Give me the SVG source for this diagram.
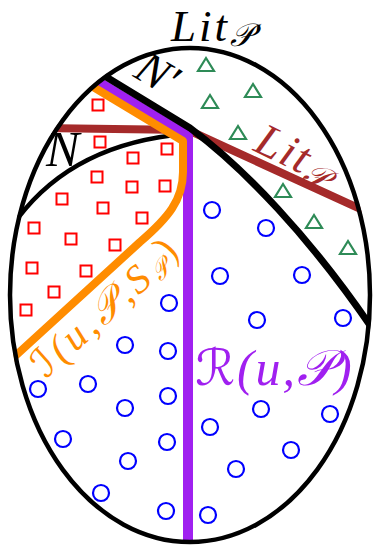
<svg xmlns="http://www.w3.org/2000/svg" width="375" height="547" viewBox="0 0 375 547">
<style>
.t{font-family:"Liberation Serif","DejaVu Serif","DejaVu Sans",serif;font-style:italic}
.sq{fill:none;stroke:#ff0000;stroke-width:2}
.tri{fill:none;stroke:#2e8b57;stroke-width:2.2;stroke-linejoin:miter}
.ci{fill:none;stroke:#0000ff;stroke-width:2.2}
.ln{fill:none;stroke-linejoin:round}
</style>
<defs>
<clipPath id="egg"><ellipse cx="190" cy="295" rx="182" ry="249"/></clipPath>
<rect id="s" x="-5.5" y="-5.5" width="11" height="11" class="sq"/>
<path id="g" d="M-8 6 L8 6 L0 -7 Z" class="tri"/>
<circle id="c" r="8" class="ci"/>
<path id="ob" d="M 16 406 L 154 282 Q 180 258 188 228"/>
</defs>
<g id="connectors" clip-path="url(#egg)">
<path d="M 18 218 Q 75 143 186 134" class="ln" stroke="#000" stroke-width="4.5"/>
<path d="M 40 128 L 188 130 L 380 218" class="ln" stroke="#a52a2a" stroke-width="8"/>
<path d="M 80 71 L 188 136 L 188 560" class="ln" stroke="#a020f0" stroke-width="10"/>
<path d="M 75 76 L 183 141 L 183 172 C 183 200 168 218 140 242 L 0 370" class="ln" stroke="#ff8c00" stroke-width="8"/>
<path d="M 80 61 L 190 128 C 240 165 310 235 380 340" class="ln" stroke="#000" stroke-width="7"/>
</g>
<g id="egg-outline"><ellipse cx="190" cy="295" rx="180" ry="247" fill="none" stroke="#000" stroke-width="4.5"/></g>
<g id="squares">
<use href="#s" x="98" y="105"/><use href="#s" x="100" y="142"/><use href="#s" x="167" y="149"/>
<use href="#s" x="133" y="158"/><use href="#s" x="97" y="177"/><use href="#s" x="132" y="187"/>
<use href="#s" x="165" y="186"/><use href="#s" x="62" y="199"/><use href="#s" x="103" y="208"/>
<use href="#s" x="142" y="218"/><use href="#s" x="34" y="228"/><use href="#s" x="71" y="239"/>
<use href="#s" x="115" y="245"/><use href="#s" x="32" y="268"/><use href="#s" x="86" y="271"/>
<use href="#s" x="54" y="292"/><use href="#s" x="26" y="310"/>
</g>
<g id="triangles">
<use href="#g" x="206" y="65"/><use href="#g" x="253" y="91"/><use href="#g" x="210" y="102"/>
<use href="#g" x="238" y="133"/><use href="#g" x="283" y="191"/><use href="#g" x="314" y="222"/>
<use href="#g" x="348" y="248"/>
</g>
<g id="circles">
<use href="#c" x="212" y="210"/><use href="#c" x="266" y="228"/><use href="#c" x="220" y="276"/>
<use href="#c" x="302" y="275"/><use href="#c" x="257" y="320"/><use href="#c" x="343" y="318"/>
<use href="#c" x="169" y="303"/><use href="#c" x="125" y="345"/><use href="#c" x="168" y="351"/>
<use href="#c" x="38" y="389"/><use href="#c" x="88" y="384"/><use href="#c" x="125" y="408"/>
<use href="#c" x="168" y="396"/><use href="#c" x="63" y="439"/><use href="#c" x="128" y="461"/>
<use href="#c" x="167" y="442"/><use href="#c" x="101" y="493"/><use href="#c" x="166" y="511"/>
<use href="#c" x="210" y="427"/><use href="#c" x="261" y="409"/><use href="#c" x="330" y="414"/>
<use href="#c" x="291" y="450"/><use href="#c" x="236" y="469"/><use href="#c" x="208" y="515"/>
</g>
<g id="labels">
<text class="t" x="171" y="41" font-size="45" letter-spacing="3" fill="#000">Lit<tspan font-size="32" dy="5" letter-spacing="0">𝒫′</tspan></text>
<text class="t" font-size="46" fill="#000" transform="translate(132,76) rotate(31)">N′</text>
<text class="t" x="46" y="166" font-size="50" fill="#000">N</text>
<text class="t" font-size="46" letter-spacing="2" fill="#a52a2a" transform="translate(252,150) rotate(26)">Lit<tspan font-size="32" dy="6" letter-spacing="0">𝒫</tspan></text>
<text class="t" font-size="40" letter-spacing="4" fill="#ff8c00"><textPath href="#ob" startOffset="40">ℐ(u,𝒫,S<tspan font-size="24" dy="5" dx="1">𝒫</tspan><tspan dy="-5" dx="2">)</tspan></textPath></text>
<text class="t" x="195" y="385" font-size="50" letter-spacing="2" fill="#a020f0">ℛ(u,𝒫)</text>
</g>
</svg>
